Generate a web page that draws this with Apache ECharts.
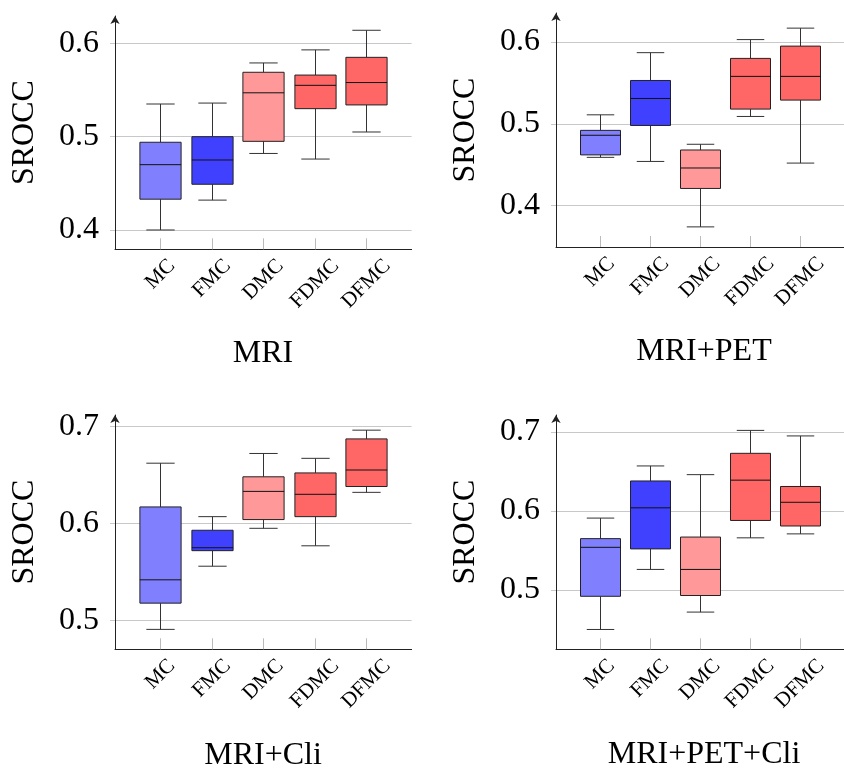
<!DOCTYPE html>
<html>
<head>
<meta charset="utf-8">
<script src="https://cdn.jsdelivr.net/npm/echarts@6/dist/echarts.min.js"></script>
<style>
  html, body { margin: 0; padding: 0; background: #fff; }
  #chartBox { width: 844px; height: 773px; }
</style>
</head>
<body>
<div id="chartBox"></div>
<script>
// categories of every panel
const categories = ['MC', 'FMC', 'DMC', 'FDMC', 'DFMC'];
const panelTitles = ['MRI', 'MRI+PET', 'MRI+Cli', 'MRI+PET+Cli'];
const boxColors = ['#8080ff', '#4040ff', '#ff9999', '#ff6666', '#ff6666'];

// each box: [min, Q1, median, Q3, max]
const mriBoxes = [
  [0.400, 0.433, 0.470, 0.494, 0.535],
  [0.432, 0.449, 0.475, 0.500, 0.536],
  [0.482, 0.495, 0.547, 0.569, 0.579],
  [0.476, 0.530, 0.555, 0.566, 0.593],
  [0.505, 0.534, 0.558, 0.585, 0.614]
];
const mriPetBoxes = [
  [0.459, 0.462, 0.486, 0.492, 0.511],
  [0.454, 0.498, 0.531, 0.553, 0.587],
  [0.374, 0.421, 0.446, 0.468, 0.475],
  [0.509, 0.518, 0.558, 0.580, 0.603],
  [0.452, 0.529, 0.558, 0.595, 0.617]
];
const mriCliBoxes = [
  [0.491, 0.518, 0.542, 0.617, 0.662],
  [0.556, 0.572, 0.575, 0.593, 0.607],
  [0.595, 0.604, 0.633, 0.648, 0.672],
  [0.577, 0.607, 0.630, 0.652, 0.667],
  [0.632, 0.638, 0.655, 0.687, 0.696]
];
const mriPetCliBoxes = [
  [0.450, 0.492, 0.554, 0.565, 0.591],
  [0.526, 0.552, 0.604, 0.638, 0.657],
  [0.472, 0.493, 0.526, 0.567, 0.646],
  [0.566, 0.588, 0.639, 0.673, 0.702],
  [0.571, 0.581, 0.611, 0.631, 0.695]
];

// y tick labels of every panel
const yTicksTop = [0.4, 0.5, 0.6];
const yTicksBottom = [0.5, 0.6, 0.7];

const panels = [
  { title: panelTitles[0], boxes: mriBoxes, ticks: yTicksTop, yMin: 0.3793, yMax: 0.6293,
    grid: { left: 115, top: 16, width: 296.6, height: 233.3 }, titlePos: [263, 338] },
  { title: panelTitles[1], boxes: mriPetBoxes, ticks: yTicksTop, yMin: 0.3494, yMax: 0.6355,
    grid: { left: 556, top: 13, width: 296, height: 234 }, titlePos: [704, 336] },
  { title: panelTitles[2], boxes: mriCliBoxes, ticks: yTicksBottom, yMin: 0.4705, yMax: 0.7116,
    grid: { left: 115, top: 415, width: 296.6, height: 234.3 }, titlePos: [263, 740] },
  { title: panelTitles[3], boxes: mriPetCliBoxes, ticks: yTicksBottom, yMin: 0.4249, yMax: 0.7215,
    grid: { left: 556, top: 415, width: 296, height: 234.3 }, titlePos: [704, 739] }
];

const FONT = '"Liberation Serif", "DejaVu Serif", serif';
const LABEL_SIZE = 21;

// 斜着的类别标签：上沿对齐，水平居中在刻度下
let ctx = document.createElement('canvas').getContext('2d');
ctx.font = LABEL_SIZE + 'px ' + FONT;
let labelWidths = categories.map(function (c) { return ctx.measureText(c).width; });
let minWidth = Math.min.apply(null, labelWidths);
let labelRich = {};
categories.forEach(function (c, k) {
  let pad = (labelWidths[k] - minWidth) * 0.5;
  labelRich['c' + k] = { fontFamily: FONT, fontSize: LABEL_SIZE, color: '#000', padding: [pad, pad, 0, 0] };
});

//画一个箱子
function renderBox(params, api) {
  let x = api.value(0);
  let lo = api.coord([x, api.value(1)]);
  let q1 = api.coord([x, api.value(2)]);
  let md = api.coord([x, api.value(3)]);
  let q3 = api.coord([x, api.value(4)]);
  let hi = api.coord([x, api.value(5)]);
  let bw = api.size([0.8, 0])[0];
  let cw = api.size([0.55, 0])[0];
  let cx = Math.round(lo[0]) + 0.5;
  let line = { stroke: '#333', lineWidth: 1 };
  return {
    type: 'group',
    children: [
      { type: 'line', shape: { x1: cx, y1: hi[1], x2: cx, y2: q3[1] }, style: line },
      { type: 'line', shape: { x1: cx, y1: q1[1], x2: cx, y2: lo[1] }, style: line },
      { type: 'line', shape: { x1: cx - cw / 2, y1: hi[1], x2: cx + cw / 2, y2: hi[1] }, style: line },
      { type: 'line', shape: { x1: cx - cw / 2, y1: lo[1], x2: cx + cw / 2, y2: lo[1] }, style: line },
      { type: 'rect', shape: { x: cx - bw / 2, y: q3[1], width: bw, height: q1[1] - q3[1] },
        style: { fill: boxColors[x - 1], stroke: '#222', lineWidth: 1 } },
      { type: 'line', shape: { x1: cx - bw / 2, y1: md[1], x2: cx + bw / 2, y2: md[1] },
        style: { stroke: '#111', lineWidth: 1 } }
    ]
  };
}

let option = {
  backgroundColor: '#fff',
  animation: false,
  title: [],
  grid: [],
  xAxis: [],
  yAxis: [],
  series: []
};

panels.forEach(function (p, i) {
  option.grid.push(p.grid);
  option.title.push({
    text: p.title, left: p.titlePos[0], top: p.titlePos[1], textAlign: 'center', padding: 0,
    textStyle: { fontFamily: FONT, fontSize: 32, fontWeight: 'normal', color: '#000' }
  });
  option.xAxis.push({
    type: 'value', gridIndex: i, min: 0.12, max: 5.88,
    axisLine: { show: true, lineStyle: { color: '#222', width: 1 } },
    axisTick: { show: true, inside: true, length: 11, customValues: [1, 2, 3, 4, 5],
      lineStyle: { color: '#bbb', width: 1 } },
    axisLabel: {
      customValues: [1, 2, 3, 4, 5], rotate: 45, margin: 25, align: 'center', verticalAlign: 'middle',
      fontFamily: FONT, fontSize: LABEL_SIZE, color: '#000', rich: labelRich,
      formatter: function (v) {
        let k = Math.round(v) - 1;
        return categories[k] ? '{c' + k + '|' + categories[k] + '}' : '';
      }
    },
    splitLine: { show: false }
  });
  option.yAxis.push({
    type: 'value', gridIndex: i, min: p.yMin, max: p.yMax,
    name: 'SROCC', nameLocation: 'middle', nameGap: 74, nameRotate: 90,
    nameTextStyle: { fontFamily: FONT, fontSize: 32, color: '#000' },
    axisLine: { show: true, symbol: ['none', 'arrow'], symbolSize: [7, 8],
      lineStyle: { color: '#222', width: 1 } },
    axisTick: { show: true, length: 5, customValues: p.ticks, lineStyle: { color: '#c8c8c8' } },
    axisLabel: { customValues: p.ticks, margin: 16, fontFamily: FONT, fontSize: 32, color: '#000',
      formatter: function (v) { return v.toFixed(1); } },
    splitLine: { show: true, lineStyle: { color: '#c8c8c8', width: 1 } }
  });
  option.series.push({
    type: 'custom', xAxisIndex: i, yAxisIndex: i,
    renderItem: renderBox,
    data: p.boxes.map(function (b, k) { return [k + 1].concat(b); })
  });
});

let myChart = echarts.init(document.getElementById('chartBox'));
myChart.setOption(option, true);
</script>
</body>
</html>
